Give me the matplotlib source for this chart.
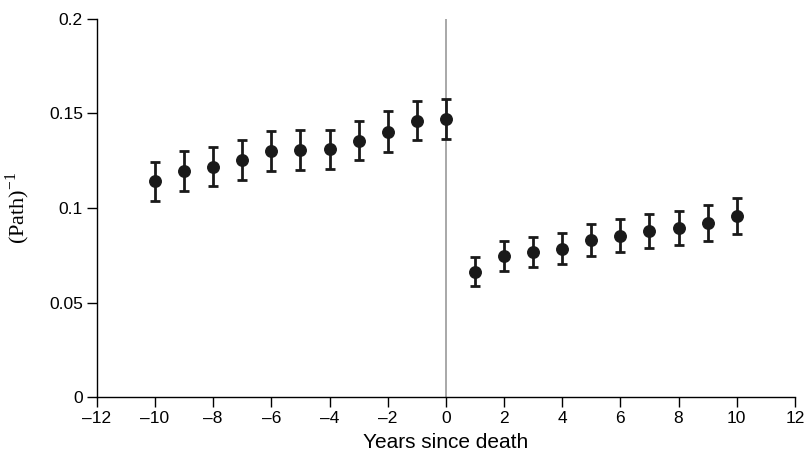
import matplotlib
matplotlib.use("Agg")
import matplotlib.pyplot as plt
import numpy as np

plt.rcParams['font.family'] = ['Liberation Sans', 'DejaVu Sans']
plt.rcParams['axes.unicode_minus'] = False
plt.rcParams['mathtext.fontset'] = 'custom'
plt.rcParams['mathtext.rm'] = 'Liberation Serif'

years = [-10, -9, -8, -7, -6, -5, -4, -3, -2, -1, 0, 1, 2, 3, 4, 5, 6, 7, 8, 9, 10]
values = [0.114, 0.1196, 0.1219, 0.1252, 0.1302, 0.1307, 0.1309, 0.1356, 0.1404, 0.1462, 0.1472,
          0.0662, 0.0746, 0.0767, 0.0785, 0.0830, 0.0852, 0.0877, 0.0895, 0.0920, 0.0958]
errors = [0.0104, 0.0105, 0.0105, 0.0105, 0.0106, 0.0106, 0.0105, 0.0105, 0.0106, 0.0105, 0.0105,
          0.0076, 0.0079, 0.0080, 0.0082, 0.0085, 0.0087, 0.0089, 0.0091, 0.0093, 0.0095]
xticks = list(range(-12, 13, 2))
yticks = [0, 0.05, 0.1, 0.15, 0.2]

fig = plt.figure(figsize=(8.07, 4.58), dpi=100)
ax = fig.add_axes([0.120, 0.133, 0.865, 0.826])

ax.axvline(0, color='#999999', lw=1.2, zorder=1)
ax.errorbar(years, values, yerr=errors, fmt='o', color='#1a1a1a', ms=8.3,
            elinewidth=2, capsize=3.5, capthick=2, zorder=3)

ax.set_xlim(-12, 12)
ax.set_ylim(0, 0.2)
ax.set_xticks(xticks)
ax.set_xticklabels([str(t).replace('-', '\u2013') for t in xticks])
ax.set_yticks(yticks)
ax.set_yticklabels(['0', '0.05', '0.1', '0.15', '0.2'])
ax.spines['top'].set_visible(False)
ax.spines['right'].set_visible(False)
for s in ('left', 'bottom'):
    ax.spines[s].set_linewidth(1.0)
ax.tick_params(direction='out', length=7, width=1, labelsize=12.5, pad=3)

ax.set_xlabel('Years since death', fontsize=15, labelpad=5)
ax.set_ylabel('(Path)$^{-1}$', fontsize=16, family='Liberation Serif', labelpad=12)

fig.savefig('out.png', dpi=100)
